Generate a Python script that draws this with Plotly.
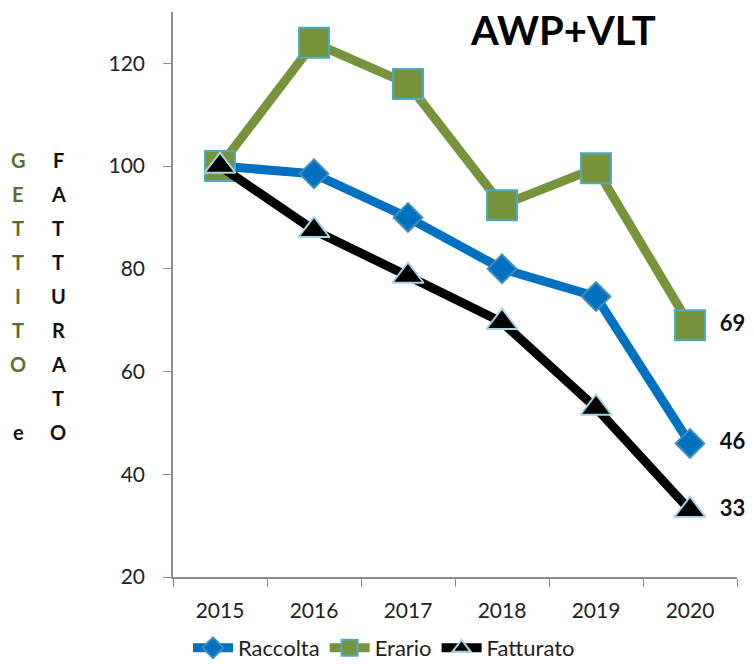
import plotly.graph_objects as go

years = ["2015", "2016", "2017", "2018", "2019", "2020"]
raccolta = [100, 98.5, 90, 80, 74.6, 46]
erario = [100, 124, 116, 92.4, 99.6, 69]
fatturato = [100, 87.5, 78.6, 69.6, 52.9, 33]
end_labels = ["46", "69", "33"]
y_ticks = [20, 40, 60, 80, 100, 120]
title_text = "AWP+VLT"
left_green = "GETTITO"
left_black_e = "e"
left_black = "FATTURATO"

FONT = "Lato"
W, H = 754, 664
ml, mr, mt, mb = 173, 17, 12, 87
pw, ph = W - ml - mr, H - mt - mb


def px(xp):
    return (xp - ml) / pw


def py(yp):
    return (H - mb - yp) / ph


fig = go.Figure()

series = [
    ("Raccolta", raccolta, "#0070C0", "diamond", 22, "#3E8FB8"),
    ("Erario", erario, "#77933C", "square", 30, "#4BACC6"),
    ("Fatturato", fatturato, "#000000", "triangle-up", 27, "#A9D3E3"),
]
for name, vals, col, sym, sz, lc in series:
    fig.add_trace(go.Scatter(
        x=years, y=vals, name=name, mode="lines+markers",
        line=dict(color=col, width=9),
        marker=dict(symbol=sym, size=sz, color=col, line=dict(color=lc, width=2)),
        hoverinfo="x+y",
    ))

# end-of-series value labels (invisible marker sets the offset from the point)
last_vals = [raccolta[-1], erario[-1], fatturato[-1]]
fig.add_trace(go.Scatter(
    x=[years[-1]] * len(last_vals), y=last_vals, text=end_labels,
    mode="markers+text", textposition="middle right",
    marker=dict(size=46, color="rgba(0,0,0,0)"),
    textfont=dict(family=FONT, size=22, color="#111111", weight="bold"),
    cliponaxis=False, showlegend=False, hoverinfo="skip",
))

fig.add_annotation(x=px(563), y=py(30), xref="paper", yref="paper", text=title_text,
                   showarrow=False, xanchor="center", yanchor="middle",
                   font=dict(family=FONT, size=40, color="#000000", weight="bold"))

ys = [160, 194, 228, 262, 296, 330, 364, 398, 432]
for i, ch in enumerate(left_green):
    fig.add_annotation(x=px(18), y=py(ys[i]), xref="paper", yref="paper", text=ch,
                       showarrow=False, xanchor="center", yanchor="middle",
                       font=dict(family=FONT, size=20, color="#5B7030", weight="bold"))
fig.add_annotation(x=px(18), y=py(ys[8]), xref="paper", yref="paper", text=left_black_e,
                   showarrow=False, xanchor="center", yanchor="middle",
                   font=dict(family=FONT, size=20, color="#111111", weight="bold"))
for i, ch in enumerate(left_black):
    fig.add_annotation(x=px(58), y=py(ys[i]), xref="paper", yref="paper", text=ch,
                       showarrow=False, xanchor="center", yanchor="middle",
                       font=dict(family=FONT, size=20, color="#111111", weight="bold"))

fig.update_layout(
    width=W, height=H,
    margin=dict(l=ml, r=mr, t=mt, b=mb, autoexpand=False),
    plot_bgcolor="white", paper_bgcolor="white",
    showlegend=True,
    legend=dict(orientation="h", x=px(188), xanchor="left", y=py(648), yanchor="middle",
                font=dict(family=FONT, size=22, color="#222222"),
                bgcolor="rgba(0,0,0,0)", itemwidth=40, tracegroupgap=0),
    xaxis=dict(type="category", showgrid=False, showline=True, linecolor="#8C8C8C",
               linewidth=1.5, ticks="outside", tickson="boundaries", ticklen=8,
               tickcolor="#8C8C8C", tickfont=dict(family=FONT, size=21, color="#222222"),
               ticklabelstandoff=14, range=[-0.5, 5.5], automargin=False),
    yaxis=dict(range=[20, 130], tickvals=y_ticks, showgrid=False, showline=True,
               linecolor="#8C8C8C", linewidth=1.5, ticks="outside", ticklen=8,
               tickcolor="#8C8C8C", tickfont=dict(family=FONT, size=21, color="#222222"),
               ticklabelstandoff=14, zeroline=False, automargin=False),
)

fig.write_html(
    "out.html",
    config={"displayModeBar": False},
    post_script="document.body.style.margin='0';document.body.style.overflow='hidden';",
)
